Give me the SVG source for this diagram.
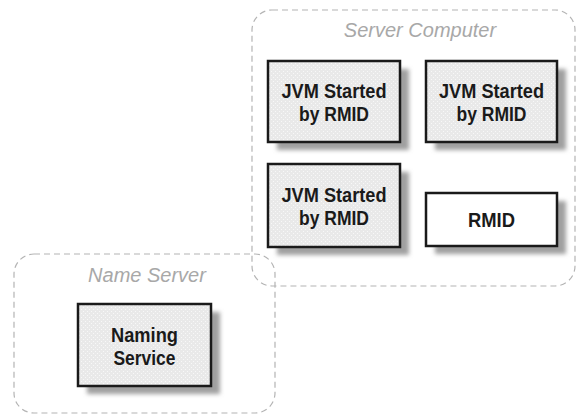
<svg xmlns="http://www.w3.org/2000/svg" width="576" height="415" viewBox="0 0 576 415">
  <defs>
    <pattern id="dots" width="4" height="4" patternUnits="userSpaceOnUse">
      <rect width="4" height="4" fill="#e9e9e9"/>
      <rect x="1" y="1" width="1" height="1" fill="#f8f8f8"/>
      <rect x="3" y="3" width="1" height="1" fill="#f8f8f8"/>
    </pattern>
    <filter id="shadow" x="-20%" y="-20%" width="140%" height="140%">
      <feGaussianBlur stdDeviation="2"/>
    </filter>
  </defs>
  <style>
    .container { fill: none; stroke: #b4b4b4; stroke-width: 1.2; stroke-dasharray: 6 4; }
    .clabel { font-family: "Liberation Sans", Arial, sans-serif; font-style: italic; font-size: 20px; fill: #a8a8a8; text-anchor: middle; }
    .shadow { fill: #a0a0a0; filter: url(#shadow); }
    .box { fill: url(#dots); stroke: #1a1a1a; stroke-width: 2.5; }
    .plain { fill: #ffffff; stroke: #1a1a1a; stroke-width: 2.5; }
    .label { font-family: "Liberation Sans", Arial, sans-serif; font-weight: bold; font-size: 20px; fill: #1a1a1a; text-anchor: middle; }
  </style>

  <g id="server-computer">
    <rect class="container" x="252" y="10" width="323" height="276" rx="20" ry="20"/>
    <text class="clabel" x="420" y="37">Server Computer</text>
  </g>

  <g id="name-server">
    <rect class="container" x="14" y="254" width="261" height="159" rx="20" ry="20"/>
    <text class="clabel" x="147" y="282">Name Server</text>
  </g>

  <g id="jvm1">
    <rect class="shadow" x="277" y="69" width="132" height="81"/>
    <rect class="box" x="268" y="61" width="132" height="81"/>
    <text class="label" x="334" y="98" textLength="105" lengthAdjust="spacingAndGlyphs">JVM Started</text>
    <text class="label" x="334" y="121" textLength="70" lengthAdjust="spacingAndGlyphs">by RMID</text>
  </g>

  <g id="jvm2">
    <rect class="shadow" x="435" y="69" width="131" height="81"/>
    <rect class="box" x="426" y="61" width="131" height="81"/>
    <text class="label" x="491.5" y="98" textLength="105" lengthAdjust="spacingAndGlyphs">JVM Started</text>
    <text class="label" x="491.5" y="121" textLength="70" lengthAdjust="spacingAndGlyphs">by RMID</text>
  </g>

  <g id="jvm3">
    <rect class="shadow" x="277" y="172" width="132" height="83"/>
    <rect class="box" x="268" y="164" width="132" height="83"/>
    <text class="label" x="334" y="202" textLength="105" lengthAdjust="spacingAndGlyphs">JVM Started</text>
    <text class="label" x="334" y="225" textLength="70" lengthAdjust="spacingAndGlyphs">by RMID</text>
  </g>

  <g id="rmid">
    <rect class="shadow" x="435" y="201" width="131" height="53"/>
    <rect class="plain" x="426" y="193" width="131" height="53"/>
    <text class="label" x="491.5" y="227" textLength="47" lengthAdjust="spacingAndGlyphs">RMID</text>
  </g>

  <g id="naming-service">
    <rect class="shadow" x="87" y="312" width="133" height="82"/>
    <rect class="box" x="78" y="304" width="133" height="82"/>
    <text class="label" x="144.5" y="342" textLength="67" lengthAdjust="spacingAndGlyphs">Naming</text>
    <text class="label" x="144.5" y="365" textLength="62" lengthAdjust="spacingAndGlyphs">Service</text>
  </g>
</svg>
